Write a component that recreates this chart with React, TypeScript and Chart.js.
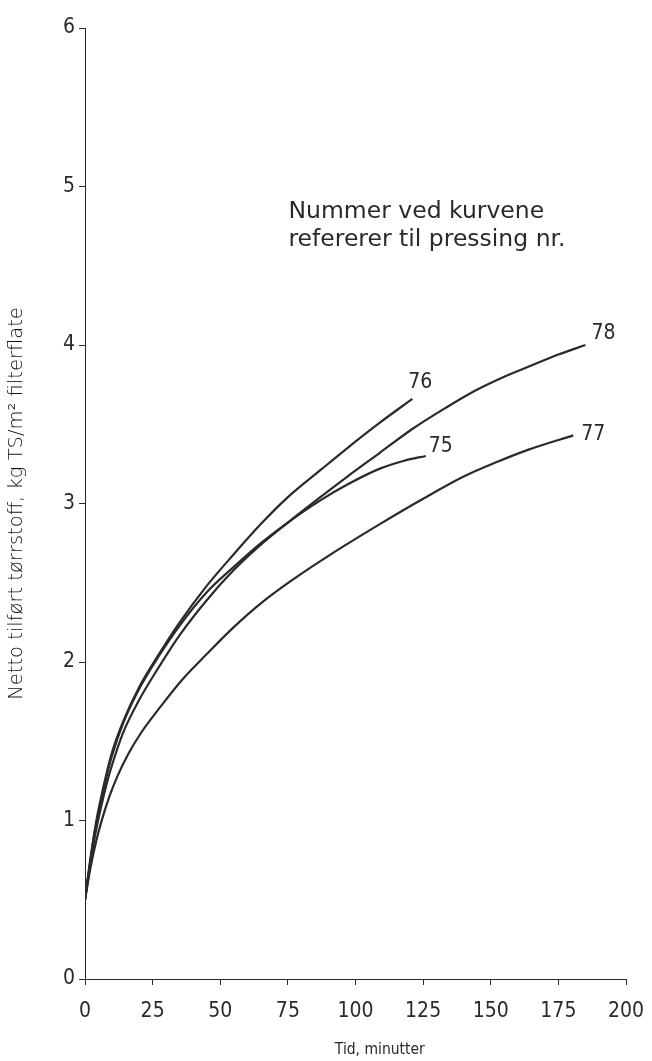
import React, { useEffect, useRef } from "react";
import { Chart, registerables } from "chart.js";

Chart.register(...registerables);

// Pressing numbers (curve labels)
const seriesNames = ["76", "78", "75", "77"];

// Time (minutes) and net dry solids (kg TS/m² filter area)
const x76 = [0, 2, 4, 6, 8, 10, 14, 20, 27, 35, 45, 55, 65, 75, 87, 97, 109, 121];
const y76 = [0.5, 0.76, 0.98, 1.15, 1.3, 1.43, 1.62, 1.84, 2.04, 2.25, 2.48, 2.68, 2.87, 3.04, 3.21, 3.35, 3.51, 3.66];

const x78 = [0, 2, 4, 6, 8, 10, 14, 20, 27, 35, 45, 55, 65, 75, 87, 97, 109, 121, 133, 144, 155, 165, 175, 185];
const y78 = [0.5, 0.73, 0.93, 1.09, 1.23, 1.35, 1.55, 1.76, 1.96, 2.17, 2.39, 2.58, 2.74, 2.88, 3.04, 3.17, 3.32, 3.47, 3.6, 3.71, 3.8, 3.87, 3.94, 4.0];

const x75 = [0, 2, 4, 6, 8, 10, 14, 20, 27, 35, 45, 55, 65, 75, 87, 97, 109, 118, 126];
const y75 = [0.5, 0.75, 0.96, 1.13, 1.28, 1.41, 1.61, 1.83, 2.03, 2.23, 2.44, 2.6, 2.75, 2.88, 3.02, 3.12, 3.22, 3.27, 3.3];

const x77 = [0, 2, 4, 6, 9, 12, 16, 21, 28, 36, 45, 55, 65, 76, 90, 109, 125, 140, 152, 164, 180.5];
const y77 = [0.5, 0.7, 0.86, 0.99, 1.15, 1.28, 1.42, 1.56, 1.72, 1.89, 2.05, 2.22, 2.37, 2.51, 2.67, 2.87, 3.03, 3.17, 3.26, 3.34, 3.43];

const xTicks = [0, 25, 50, 75, 100, 125, 150, 175, 200];
const yTicks = [0, 1, 2, 3, 4, 5, 6];

const xTitle = "Tid, minutter";
const yTitle = "Netto tilført tørrstoff, kg TS/m² filterflate";
const noteLines = ["Nummer ved kurvene", "refererer til pressing nr."];

const seriesX = [x76, x78, x75, x77];
const seriesY = [y76, y78, y75, y77];

const INK = "#2a2a2a";
const TICK_FONT = "'DejaVu Sans Condensed', 'Liberation Sans Narrow', sans-serif";

// label offsets relative to end of each curve (pixels)
const labelOffsets = [
  [-4, -16],
  [6, -11],
  [3, -9],
  [8, -1],
];

const annotationPlugin = {
  id: "annotations",
  afterDatasetsDraw(chart: any) {
    const { ctx } = chart;
    ctx.save();
    ctx.fillStyle = INK;
    // curve labels
    ctx.font = `21px ${TICK_FONT}`;
    ctx.textBaseline = "middle";
    ctx.textAlign = "left";
    chart.data.datasets.forEach((ds: any, i: number) => {
      const meta = chart.getDatasetMeta(i);
      const last = meta.data[meta.data.length - 1];
      const [dx, dy] = labelOffsets[i];
      ctx.fillText(ds.label, last.x + dx, last.y + dy);
    });
    // note
    const xs = chart.scales.x;
    const ys = chart.scales.y;
    ctx.font = "23.5px 'DejaVu Sans', sans-serif";
    ctx.fillText(noteLines[0], xs.getPixelForValue(75.2), ys.getPixelForValue(4.84));
    ctx.fillText(noteLines[1], xs.getPixelForValue(75.2), ys.getPixelForValue(4.66));
    // x title
    ctx.font = `15.5px ${TICK_FONT}`;
    ctx.textAlign = "center";
    ctx.fillText(xTitle, xs.getPixelForValue(109), chart.height - 11);
    ctx.restore();
  },
};

export default function App() {
  const ref = useRef<HTMLCanvasElement | null>(null);

  useEffect(() => {
    if (!ref.current) return;
    const datasets = seriesNames.map((name, i) => ({
      label: name,
      data: seriesX[i].map((x, j) => ({ x, y: seriesY[i][j] })),
      borderColor: INK,
      borderWidth: 2.2,
      pointRadius: 0,
      fill: false,
      cubicInterpolationMode: "monotone" as const,
    }));

    const chart = new Chart(ref.current, {
      type: "line",
      data: { datasets },
      options: {
        responsive: false,
        animation: false,
        layout: { padding: { left: 0, top: 28, right: 26, bottom: 0 } },
        plugins: {
          legend: { display: false },
          tooltip: { enabled: false },
        },
        scales: {
          x: {
            type: "linear",
            min: 0,
            max: 200,
            afterBuildTicks: (s: any) => {
              s.ticks = xTicks.map((v) => ({ value: v }));
            },
            afterFit: (s: any) => {
              s.height = 82;
              s.paddingRight = 0;
              s.paddingLeft = 0;
            },
            ticks: {
              color: INK,
              font: { family: TICK_FONT, size: 21 },
              padding: 14,
              maxRotation: 0,
              autoSkip: false,
            },
            grid: {
              drawOnChartArea: false,
              drawTicks: true,
              tickLength: 6,
              color: INK,
              lineWidth: 1,
            },
            border: { display: true, color: INK, width: 1 },
          },
          y: {
            type: "linear",
            min: 0,
            max: 6,
            afterBuildTicks: (s: any) => {
              s.ticks = yTicks.map((v) => ({ value: v }));
            },
            afterFit: (s: any) => {
              s.width = 85;
              s.paddingTop = 0;
              s.paddingBottom = 0;
            },
            ticks: {
              color: INK,
              font: { family: TICK_FONT, size: 21 },
              padding: 4,
              autoSkip: false,
            },
            grid: {
              drawOnChartArea: false,
              drawTicks: true,
              tickLength: 6,
              color: INK,
              lineWidth: 1,
            },
            border: { display: true, color: INK, width: 1 },
            title: {
              display: true,
              text: yTitle,
              color: "#111",
              font: { family: "'DejaVu Sans', sans-serif", size: 19.5, weight: "200" },
              padding: { top: 5, bottom: 0 },
            },
          },
        },
      },
      plugins: [annotationPlugin],
    });
    return () => chart.destroy();
  }, []);

  return (
    <div style={{ position: "fixed", left: 0, top: 0, width: 652, height: 1061, background: "#fff" }}>
      <canvas ref={ref} width={652} height={1061} style={{ display: "block" }} />
    </div>
  );
}
